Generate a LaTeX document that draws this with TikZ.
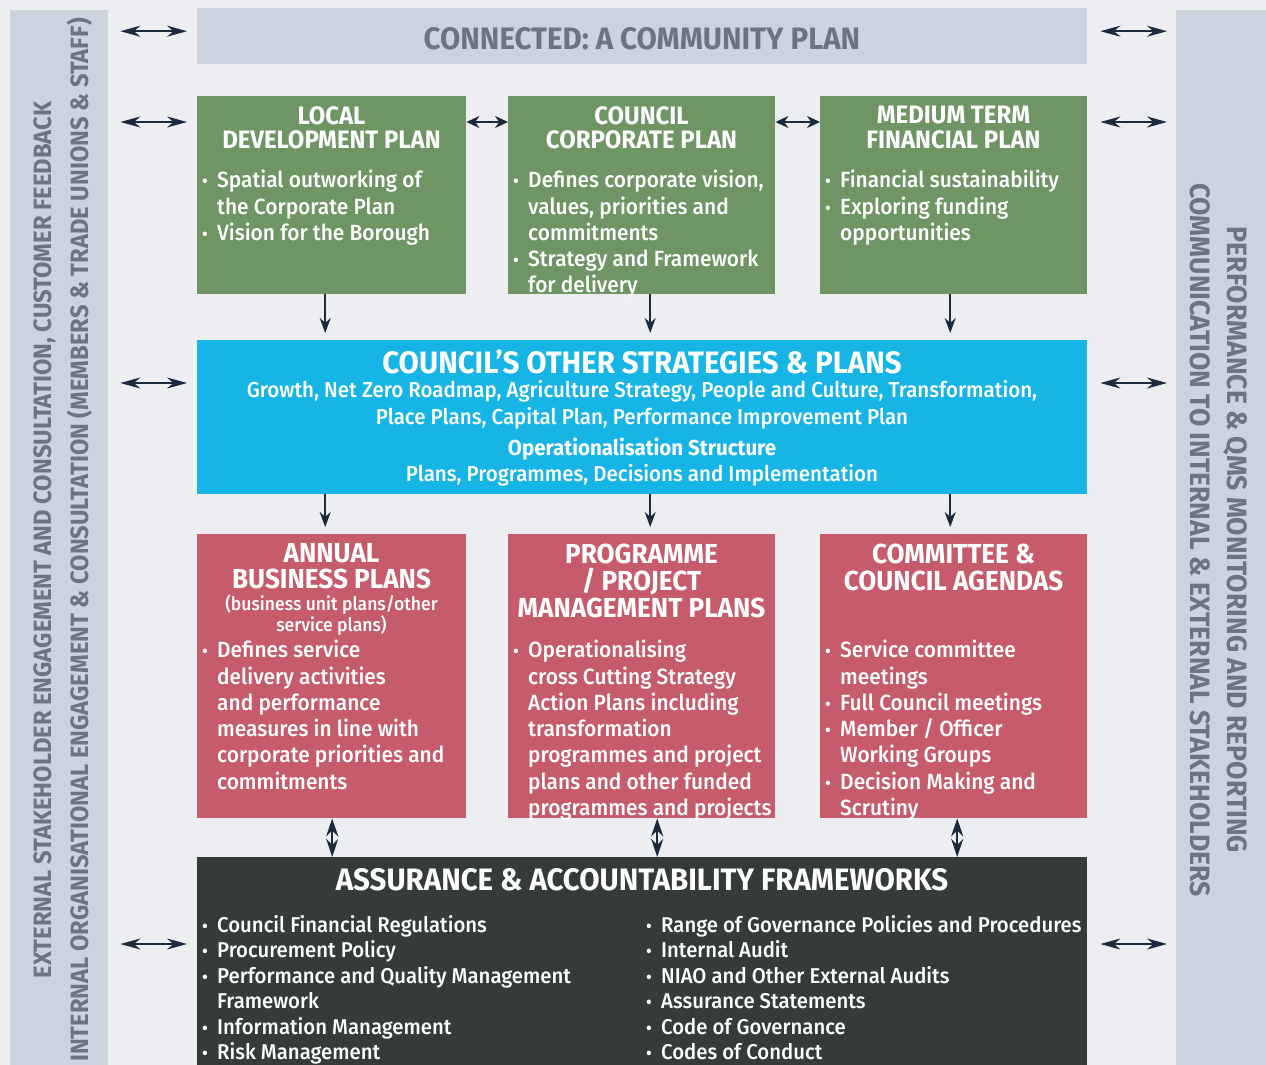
\documentclass[tikz,border=0pt]{standalone}
\usepackage{fontspec}
\setmainfont{Fira Sans}[FakeStretch=0.95]
\newfontfamily\medfont{Fira Sans Medium}[FakeStretch=0.95]
\usetikzlibrary{arrows.meta}

\definecolor{bgcol}{HTML}{ECEEF1}
\definecolor{bandcol}{HTML}{CBD4DE}
\definecolor{bandtxt}{HTML}{6C7484}
\definecolor{greencol}{HTML}{6F9565}
\definecolor{bluecol}{HTML}{16B5E5}
\definecolor{redcol}{HTML}{C55B6B}
\definecolor{darkcol}{HTML}{343B38}
\definecolor{arrowcol}{HTML}{1B2A3F}

\newcommand\itm{\makebox[15pt][l]{\fontsize{18}{18}\selectfont\textbullet}}
\newcommand\cnt{\hspace*{15pt}}

\begin{document}
\begin{tikzpicture}[x=1pt, y=-1pt,
  box/.style={inner sep=0, anchor=north west},
  band/.style={box, fill=bandcol},
  greenbox/.style={box, fill=greencol},
  bluebox/.style={box, fill=bluecol},
  redbox/.style={box, fill=redcol},
  darkbox/.style={box, fill=darkcol},
  sidetext/.style={text=bandtxt, inner sep=0, font=\fontsize{25}{25}\selectfont\bfseries},
  gtitle/.style={text=white, inner sep=0, anchor=north, align=center, font=\fontsize{25.2}{24.5}\selectfont\bfseries},
  rtitle/.style={text=white, inner sep=0, anchor=north, align=center, font=\fontsize{27.5}{26.7}\selectfont\bfseries},
  btitle/.style={text=white, inner sep=0, anchor=base, font=\fontsize{31}{31}\selectfont\bfseries},
  bline/.style={text=white, inner sep=0, anchor=base, font=\fontsize{21.6}{21.6}\medfont},
  body/.style={text=white, inner sep=0, anchor=north west, align=left, font=\fontsize{22}{26.3}\medfont},
  dbl/.style={draw=arrowcol, line width=2pt, {Stealth[length=20pt,width=11pt]}-{Stealth[length=20pt,width=11pt]}},
  dblshort/.style={draw=arrowcol, line width=2pt, {Stealth[length=13pt,width=12pt]}-{Stealth[length=13pt,width=12pt]}},
  dblvert/.style={draw=arrowcol, line width=2pt, {Stealth[length=18pt,width=12pt]}-{Stealth[length=18pt,width=12pt]}},
  down/.style={draw=arrowcol, line width=2pt, -{Stealth[length=15pt,width=11pt]}, shorten >=7pt}]

\path[use as bounding box, fill=bgcol] (0,0) rectangle (1266,1065);

\node[band, minimum width=98pt, minimum height=1055pt] (lband) at (10,10) {};
\node[band, minimum width=90pt, minimum height=1055pt] (rband) at (1176,10) {};
\node[sidetext, rotate=90] (lext) at (45,540) {EXTERNAL STAKEHOLDER ENGAGEMENT AND CONSULTATION, CUSTOMER FEEDBACK};
\node[sidetext, rotate=90] (lint) at (80,540) {INTERNAL ORGANISATIONAL ENGAGEMENT \& CONSULTATION (MEMBERS \& TRADE UNIONS \& STAFF)};
\node[sidetext, rotate=-90, font=\fontsize{28}{28}\selectfont\bfseries] (rperf) at (1235,540) {PERFORMANCE \& QMS MONITORING AND REPORTING};
\node[sidetext, rotate=-90, font=\fontsize{28}{28}\selectfont\bfseries] (rcom) at (1200,540) {COMMUNICATION TO INTERNAL \& EXTERNAL STAKEHOLDERS};

\node[band, minimum width=890pt, minimum height=56pt] (top) at (197,8) {};
\node[btitle, text=bandtxt] (topt) at (642,50) {CONNECTED: A COMMUNITY PLAN};

\node[greenbox, minimum width=269pt, minimum height=198pt] (ldp) at (197,96) {};
\node[greenbox, minimum width=267pt, minimum height=198pt] (ccp) at (508,96) {};
\node[greenbox, minimum width=267pt, minimum height=198pt] (mtfp) at (820,96) {};
\node[gtitle] (ldpt) at (331.5,106) {LOCAL\\DEVELOPMENT PLAN};
\node[gtitle] (ccpt) at (641.5,106) {COUNCIL\\CORPORATE PLAN};
\node[gtitle] (mtfpt) at (953.5,106) {MEDIUM TERM\\FINANCIAL PLAN};
\node[body] (ldpb) at (202,170) {\itm Spatial outworking of\\\cnt the Corporate Plan\\\itm Vision for the Borough};
\node[body] (ccpb) at (513,170) {\itm Defines corporate vision,\\\cnt values, priorities and\\\cnt commitments\\\itm Strategy and Framework\\\cnt for delivery};
\node[body] (mtfpb) at (825,170) {\itm Financial sustainability\\\itm Exploring funding\\\cnt opportunities};

\node[bluebox, minimum width=890pt, minimum height=154pt] (cosp) at (197,340) {};
\node[btitle] (cospt) at (642,373) {COUNCIL’S OTHER STRATEGIES \& PLANS};
\node[bline] (cosp1) at (642,397) {Growth, Net Zero Roadmap, Agriculture Strategy, People and Culture, Transformation,};
\node[bline] (cosp2) at (642,424) {Place Plans, Capital Plan, Performance Improvement Plan};
\node[bline, font=\fontsize{21.6}{21.6}\selectfont\bfseries] (opst) at (642,455) {Operationalisation Structure};
\node[bline] (opsl) at (642,481) {Plans, Programmes, Decisions and Implementation};

\node[redbox, minimum width=269pt, minimum height=284pt] (abp) at (197,534) {};
\node[redbox, minimum width=267pt, minimum height=284pt] (pmp) at (508,534) {};
\node[redbox, minimum width=267pt, minimum height=284pt] (cca) at (820,534) {};
\node[rtitle] (abpt) at (331.5,543) {ANNUAL\\BUSINESS PLANS};
\node[rtitle, font=\fontsize{18.5}{16.5}\medfont] (abps) at (331.5,595) {(business unit plans/other\\service plans)};
\node[rtitle] (pmpt) at (641.5,544) {PROGRAMME\\/ PROJECT\\MANAGEMENT PLANS};
\node[rtitle] (ccat) at (953.5,544) {COMMITTEE \&\\COUNCIL AGENDAS};
\node[body] (abpb) at (202,640) {\itm Defines service\\\cnt delivery activities\\\cnt and performance\\\cnt measures in line with\\\cnt corporate priorities and\\\cnt commitments};
\node[body] (pmpb) at (513,640) {\itm Operationalising\\\cnt cross Cutting Strategy\\\cnt Action Plans including\\\cnt transformation\\\cnt programmes and project\\\cnt plans and other funded\\\cnt programmes and projects};
\node[body] (ccab) at (825,640) {\itm Service committee\\\cnt meetings\\\itm Full Council meetings\\\itm Member / Officer\\\cnt Working Groups\\\itm Decision Making and\\\cnt Scrutiny};

\node[darkbox, minimum width=890pt, minimum height=215pt] (aaf) at (197,857) {};
\node[btitle] (aaft) at (642,890) {ASSURANCE \& ACCOUNTABILITY FRAMEWORKS};
\node[body, font=\fontsize{21.4}{25.5}\medfont] (aafl) at (202,915) {\itm Council Financial Regulations\\\itm Procurement Policy\\\itm Performance and Quality Management\\\cnt Framework\\\itm Information Management\\\itm Risk Management};
\node[body, font=\fontsize{21.4}{25.5}\medfont] (aafr) at (646,915) {\itm Range of Governance Policies and Procedures\\\itm Internal Audit\\\itm NIAO and Other External Audits\\\itm Assurance Statements\\\itm Code of Governance\\\itm Codes of Conduct};

\draw[dbl, shorten <=12pt, shorten >=10pt] ([yshift=5pt]top.west -| lband.east) -- ([yshift=5pt]top.west);
\draw[dbl, shorten <=12pt, shorten >=10pt] ([yshift=-26pt]ldp.north west -| lband.east) -- ([yshift=-26pt]ldp.north west);
\draw[dbl, shorten <=12pt, shorten >=10pt] ([yshift=-43pt]cosp.north west -| lband.east) -- ([yshift=-43pt]cosp.north west);
\draw[dbl, shorten <=12pt, shorten >=10pt] ([yshift=-87pt]aaf.north west -| lband.east) -- ([yshift=-87pt]aaf.north west);
\draw[dbl, shorten <=13pt, shorten >=9pt] ([yshift=5pt]top.east) -- ([yshift=5pt]top.east -| rband.west);
\draw[dbl, shorten <=13pt, shorten >=9pt] ([yshift=-26pt]mtfp.north east) -- ([yshift=-26pt]mtfp.north east -| rband.west);
\draw[dbl, shorten <=13pt, shorten >=9pt] ([yshift=-43pt]cosp.north east) -- ([yshift=-43pt]cosp.north east -| rband.west);
\draw[dbl, shorten <=13pt, shorten >=9pt] ([yshift=-87pt]aaf.north east) -- ([yshift=-87pt]aaf.north east -| rband.west);

\draw[dblshort] ([yshift=-26pt]ldp.north east) -- ([yshift=-26pt]ccp.north west);
\draw[dblshort] ([yshift=-26pt]ccp.north east) -- ([yshift=-26pt]mtfp.north west);

\draw[down] ([xshift=-6.5pt]ldp.south) -- ([xshift=-6.5pt]ldp.south |- cosp.north);
\draw[down] ([xshift=8.5pt]ccp.south) -- ([xshift=8.5pt]ccp.south |- cosp.north);
\draw[down] ([xshift=-3.5pt]mtfp.south) -- ([xshift=-3.5pt]mtfp.south |- cosp.north);
\draw[down] ([xshift=-6.5pt]abp.north |- cosp.south) -- ([xshift=-6.5pt]abp.north);
\draw[down] ([xshift=8.5pt]pmp.north |- cosp.south) -- ([xshift=8.5pt]pmp.north);
\draw[down] ([xshift=-3.5pt]cca.north |- cosp.south) -- ([xshift=-3.5pt]cca.north);

\draw[dblvert] ([xshift=0.5pt]abp.south) -- ([xshift=0.5pt]abp.south |- aaf.north);
\draw[dblvert] ([xshift=15.5pt]pmp.south) -- ([xshift=15.5pt]pmp.south |- aaf.north);
\draw[dblvert] ([xshift=3.5pt]cca.south) -- ([xshift=3.5pt]cca.south |- aaf.north);
\end{tikzpicture}
\end{document}
